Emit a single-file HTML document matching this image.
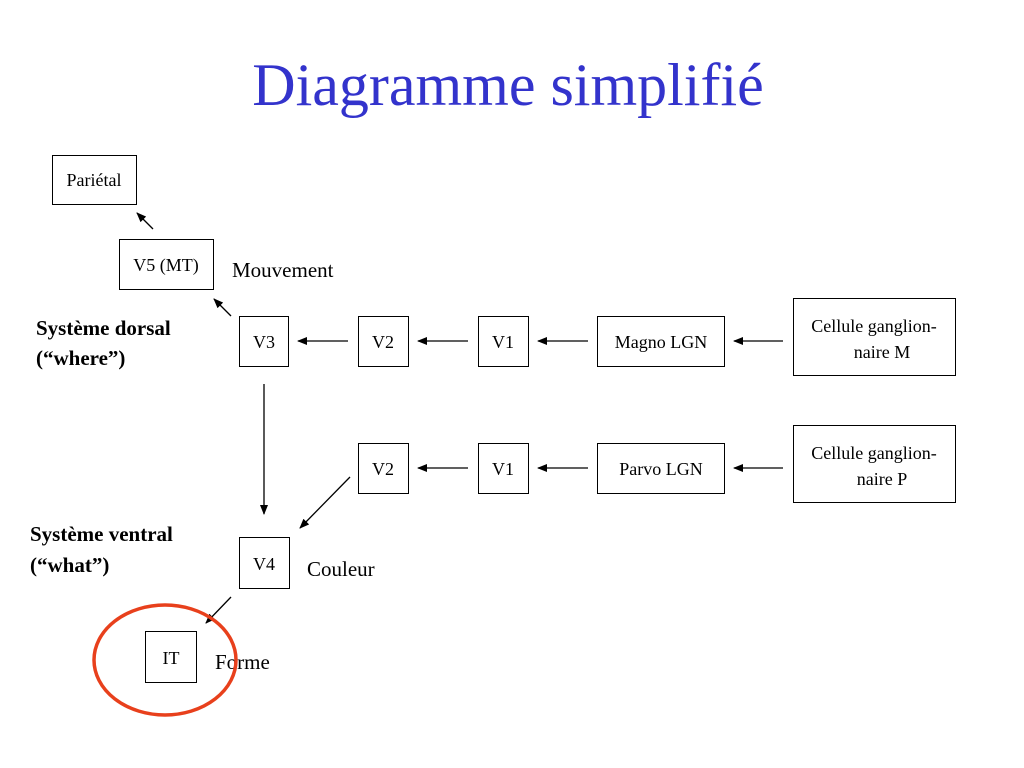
<!DOCTYPE html>
<html><head><meta charset="utf-8"><style>
body{margin:0;background:#fff;}
svg{display:block;font-family:"Liberation Serif",serif;}
</style></head><body>
<svg width="1024" height="768" viewBox="0 0 1024 768" xmlns="http://www.w3.org/2000/svg">
<defs><marker id="a" markerWidth="10" markerHeight="8" refX="9" refY="4" orient="auto" markerUnits="userSpaceOnUse"><path d="M0,0 L10,4 L0,8 z" fill="#000"/></marker></defs>
<text x="508" y="105" font-size="60" fill="#3333cc" text-anchor="middle">Diagramme simplifié</text>
<g fill="#fff" stroke="#000" stroke-width="1">
<rect x="52.5" y="155.5" width="84" height="49"/>
<rect x="119.5" y="239.5" width="94" height="50"/>
<rect x="239.5" y="316.5" width="49" height="50"/>
<rect x="358.5" y="316.5" width="50" height="50"/>
<rect x="478.5" y="316.5" width="50" height="50"/>
<rect x="597.5" y="316.5" width="127" height="50"/>
<rect x="793.5" y="298.5" width="162" height="77"/>
<rect x="358.5" y="443.5" width="50" height="50"/>
<rect x="478.5" y="443.5" width="50" height="50"/>
<rect x="597.5" y="443.5" width="127" height="50"/>
<rect x="793.5" y="425.5" width="162" height="77"/>
<rect x="239.5" y="537.5" width="50" height="51"/>
<rect x="145.5" y="631.5" width="51" height="51"/>
</g>
<g stroke="#000" stroke-width="1.3" marker-end="url(#a)">
<line x1="348" y1="341" x2="298" y2="341"/>
<line x1="468" y1="341" x2="418" y2="341"/>
<line x1="588" y1="341" x2="538" y2="341"/>
<line x1="783" y1="341" x2="734" y2="341"/>
<line x1="468" y1="468" x2="418" y2="468"/>
<line x1="588" y1="468" x2="538" y2="468"/>
<line x1="783" y1="468" x2="734" y2="468"/>
<line x1="153" y1="229" x2="137" y2="213"/>
<line x1="231" y1="316" x2="214" y2="299"/>
<line x1="264" y1="384" x2="264" y2="514"/>
<line x1="350" y1="477" x2="300" y2="528"/>
<line x1="231" y1="597" x2="206" y2="623"/>
</g>
<g font-size="18" text-anchor="middle">
<text x="94" y="186">Pariétal</text>
<text x="166" y="271">V5 (MT)</text>
<text x="264" y="348">V3</text>
<text x="383" y="348">V2</text>
<text x="503" y="348">V1</text>
<text x="661" y="348">Magno LGN</text>
<text x="874" y="332">Cellule ganglion-</text>
<text x="874" y="358" text-anchor="middle" dx="8">naire M</text>
<text x="383" y="475">V2</text>
<text x="503" y="475">V1</text>
<text x="661" y="475">Parvo LGN</text>
<text x="874" y="459">Cellule ganglion-</text>
<text x="874" y="485" dx="8">naire P</text>
<text x="264" y="570">V4</text>
<text x="171" y="664">IT</text>
</g>
<g font-size="21">
<text x="232" y="277">Mouvement</text>
<text x="307" y="576">Couleur</text>
<text x="215" y="669">Forme</text>
<g font-weight="bold">
<text x="36" y="335">Système dorsal</text>
<text x="36" y="365">(“where”)</text>
<text x="30" y="541">Système ventral</text>
<text x="30" y="572">(“what”)</text>
</g>
</g>
<ellipse cx="165" cy="660" rx="71" ry="55" fill="none" stroke="#e8401c" stroke-width="3.5"/>
</svg>
</body></html>
